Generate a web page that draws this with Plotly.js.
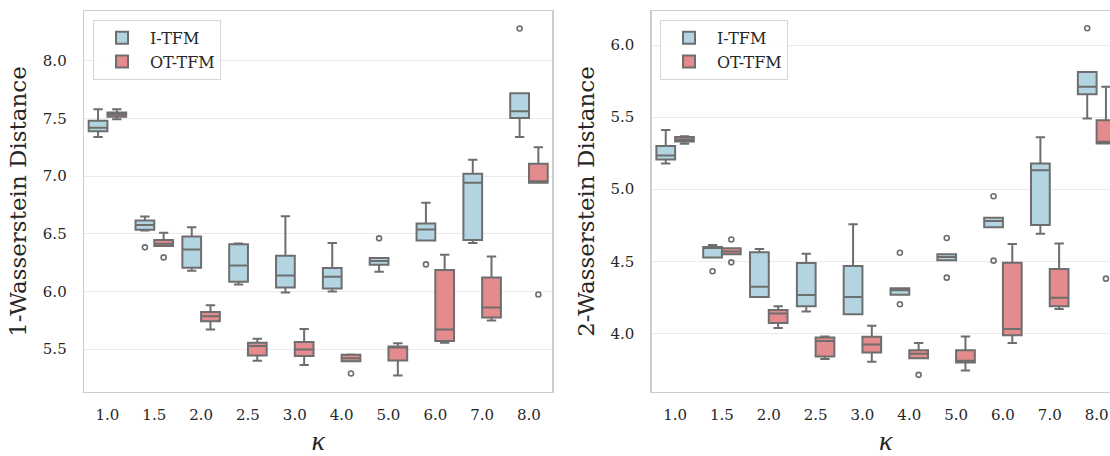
<!DOCTYPE html>
<html>
<head>
<meta charset="utf-8">
<script src="https://cdn.plot.ly/plotly-3.0.1.min.js"></script>
<style>
  html, body { margin: 0; padding: 0; overflow: hidden; background: #ffffff; }
  #chart { width: 1130px; height: 456px; }
</style>
</head>
<body>
<div id="chart"></div>
<script>
// Categories (kappa)
const categories = ['1.0','1.5','2.0','2.5','3.0','4.0','5.0','6.0','7.0','8.0'];

// ---- 1-Wasserstein, I-TFM ----
const w1_itfm_lower  = [7.340, 6.530, 6.180, 6.061, 5.991, 6.000, 6.171, 6.443, 6.421, 7.339];
const w1_itfm_q1     = [7.390, 6.535, 6.206, 6.084, 6.035, 6.026, 6.232, 6.443, 6.447, 7.504];
const w1_itfm_median = [7.420, 6.577, 6.365, 6.226, 6.139, 6.128, 6.264, 6.537, 6.943, 7.563];
const w1_itfm_q3     = [7.480, 6.615, 6.476, 6.409, 6.310, 6.203, 6.290, 6.589, 7.021, 7.719];
const w1_itfm_upper  = [7.580, 6.650, 6.557, 6.417, 6.652, 6.421, 6.290, 6.769, 7.143, 7.719];
const w1_itfm_out_x  = ['1.5', '5.0', '6.0', '8.0'];
const w1_itfm_out_y  = [6.383, 6.461, 6.235, 8.280];

// ---- 1-Wasserstein, OT-TFM ----
const w1_ot_lower  = [7.493, 6.395, 5.670, 5.399, 5.363, 5.395, 5.273, 5.557, 5.748, 6.943];
const w1_ot_q1     = [7.516, 6.395, 5.743, 5.446, 5.441, 5.395, 5.403, 5.571, 5.774, 6.943];
const w1_ot_median = [7.534, 6.415, 5.786, 5.527, 5.497, 5.421, 5.515, 5.670, 5.861, 6.955];
const w1_ot_q3     = [7.551, 6.447, 5.823, 5.555, 5.563, 5.452, 5.523, 6.186, 6.122, 7.108];
const w1_ot_upper  = [7.580, 6.510, 5.882, 5.590, 5.676, 5.455, 5.551, 6.319, 6.304, 7.250];
const w1_ot_out_x  = ['1.5', '4.0', '8.0'];
const w1_ot_out_y  = [6.296, 5.290, 5.974];

// ---- 2-Wasserstein, I-TFM ----
const w2_itfm_lower  = [5.178, 4.526, 4.252, 4.153, 4.134, 4.269, 4.507, 4.736, 4.692, 5.491];
const w2_itfm_q1     = [5.206, 4.526, 4.252, 4.188, 4.134, 4.269, 4.507, 4.736, 4.752, 5.658];
const w2_itfm_median = [5.234, 4.595, 4.324, 4.266, 4.252, 4.299, 4.530, 4.780, 5.132, 5.711];
const w2_itfm_q3     = [5.299, 4.599, 4.563, 4.488, 4.467, 4.313, 4.549, 4.803, 5.178, 5.813];
const w2_itfm_upper  = [5.410, 4.613, 4.585, 4.553, 4.757, 4.313, 4.549, 4.803, 5.361, 5.813];
const w2_itfm_out_x  = ['1.5', '4.0', '4.0', '5.0', '5.0', '6.0', '6.0', '8.0'];
const w2_itfm_out_y  = [4.431, 4.560, 4.203, 4.662, 4.387, 4.951, 4.505, 6.116];

// ---- 2-Wasserstein, OT-TFM ----
const w2_ot_lower  = [5.315, 4.549, 4.037, 3.822, 3.803, 3.828, 3.743, 3.933, 4.169, 5.317];
const w2_ot_q1     = [5.331, 4.549, 4.072, 3.840, 3.868, 3.828, 3.799, 3.988, 4.188, 5.317];
const w2_ot_median = [5.345, 4.569, 4.139, 3.947, 3.924, 3.859, 3.810, 4.030, 4.248, 5.330];
const w2_ot_q3     = [5.363, 4.590, 4.162, 3.972, 3.977, 3.884, 3.884, 4.491, 4.447, 5.479];
const w2_ot_upper  = [5.368, 4.590, 4.188, 3.979, 4.053, 3.933, 3.979, 4.620, 4.623, 5.711];
const w2_ot_out_x  = ['1.5', '1.5', '4.0', '8.0'];
const w2_ot_out_y  = [4.651, 4.493, 3.713, 4.380];

const seriesNames = ['I-TFM', 'OT-TFM'];
const yTitles = ['1-Wasserstein Distance', '2-Wasserstein Distance'];
const xTitle = 'κ';

const BLUE = '#b2d5e1';
const RED  = '#e38b8d';
const EDGE = '#6e6e6e';
const FONT = 'DejaVu Serif, serif';
const TXT = '#262626';

function boxTrace(name, grp, fill, lo, q1, med, q3, up, xa, ya, legend) {
  return {
    type: 'box',
    orientation: 'v',
    name: name,
    x: categories,
    q1: q1, median: med, q3: q3,
    lowerfence: lo, upperfence: up,
    boxpoints: false,
    whiskerwidth: 0.5,
    fillcolor: fill,
    line: {color: EDGE, width: 2},
    offsetgroup: grp, alignmentgroup: 'all',
    xaxis: xa, yaxis: ya,
    legend: legend,
    showlegend: true,
    hoverinfo: 'skip'
  };
}
function outTrace(name, grp, ox, oy, xa, ya) {
  return {
    type: 'scatter',
    mode: 'markers',
    orientation: 'v',
    name: name + ' outliers',
    x: ox, y: oy,
    marker: {symbol: 'circle-open', size: 5, color: EDGE, line: {width: 1.6, color: EDGE}},
    offsetgroup: grp, alignmentgroup: 'all',
    xaxis: xa, yaxis: ya,
    showlegend: false,
    hoverinfo: 'skip'
  };
}

const data = [
  boxTrace(seriesNames[0], 'itfm', BLUE, w1_itfm_lower, w1_itfm_q1, w1_itfm_median, w1_itfm_q3, w1_itfm_upper, 'x', 'y', 'legend'),
  boxTrace(seriesNames[1], 'ot',   RED,  w1_ot_lower, w1_ot_q1, w1_ot_median, w1_ot_q3, w1_ot_upper, 'x', 'y', 'legend'),
  boxTrace(seriesNames[0], 'itfm', BLUE, w2_itfm_lower, w2_itfm_q1, w2_itfm_median, w2_itfm_q3, w2_itfm_upper, 'x2', 'y2', 'legend2'),
  boxTrace(seriesNames[1], 'ot',   RED,  w2_ot_lower, w2_ot_q1, w2_ot_median, w2_ot_q3, w2_ot_upper, 'x2', 'y2', 'legend2'),
  outTrace(seriesNames[0], 'itfm', w1_itfm_out_x, w1_itfm_out_y, 'x', 'y'),
  outTrace(seriesNames[1], 'ot',   w1_ot_out_x, w1_ot_out_y, 'x', 'y'),
  outTrace(seriesNames[0], 'itfm', w2_itfm_out_x, w2_itfm_out_y, 'x2', 'y2'),
  outTrace(seriesNames[1], 'ot',   w2_ot_out_x, w2_ot_out_y, 'x2', 'y2')
];

const W = 1130, L = 84, R = 10;
const plotW = W - L - R;
const d1 = [0, 468.4 / plotW];
const d2 = [(651.7 - L) / plotW, 1];

function xAxis(domain, anchor) {
  return {
    domain: domain, anchor: anchor,
    type: 'category',
    categoryarray: categories, categoryorder: 'array',
    range: [-0.5, 9.5],
    showgrid: false, zeroline: false,
    showline: true, mirror: true, linecolor: '#cccccc', linewidth: 1.3,
    ticks: '', ticklabelstandoff: 9,
    tickfont: {family: FONT, size: 15, color: TXT},
    title: {text: xTitle, font: {family: 'Liberation Serif, serif', size: 28, color: TXT, style: 'italic'}, standoff: 8}
  };
}
function yAxis(range, ticks, title, anchor) {
  return {
    anchor: anchor, domain: [0, 1],
    range: range,
    tickvals: ticks, tickformat: '.1f',
    showgrid: true, gridcolor: '#ebebeb', gridwidth: 1,
    zeroline: false,
    showline: true, mirror: true, linecolor: '#cccccc', linewidth: 1.3,
    ticks: '', ticklabelstandoff: 13,
    tickfont: {family: FONT, size: 15, color: TXT},
    title: {text: title, font: {family: FONT, size: 23, color: TXT}, standoff: 9}
  };
}

const legendStyle = {
  font: {family: FONT, size: 16, color: TXT},
  bgcolor: 'rgba(255,255,255,0.85)',
  bordercolor: '#d6d6d6', borderwidth: 1,
  xanchor: 'left', yanchor: 'top',
  tracegroupgap: 0, itemwidth: 46
};

const layout = {
  width: W, height: 456,
  margin: {l: L, r: R, t: 11, b: 64},
  paper_bgcolor: '#ffffff', plot_bgcolor: '#ffffff',
  boxmode: 'group', boxgap: 0.2, boxgroupgap: 0,
  scattermode: 'group', scattergap: 0.2,
  xaxis: xAxis(d1, 'y'),
  yaxis: yAxis([5.129, 8.432], [5.5, 6.0, 6.5, 7.0, 7.5, 8.0], yTitles[0], 'x'),
  xaxis2: xAxis(d2, 'y2'),
  yaxis2: yAxis([3.594, 6.236], [4.0, 4.5, 5.0, 5.5, 6.0], yTitles[1], 'x2'),
  legend: Object.assign({x: (93 - L) / plotW, y: 0.977}, legendStyle),
  legend2: Object.assign({x: (660 - L) / plotW, y: 0.977}, legendStyle),
  showlegend: true
};

Plotly.newPlot('chart', data, layout, {displayModeBar: false, staticPlot: true});
</script>
</body>
</html>
